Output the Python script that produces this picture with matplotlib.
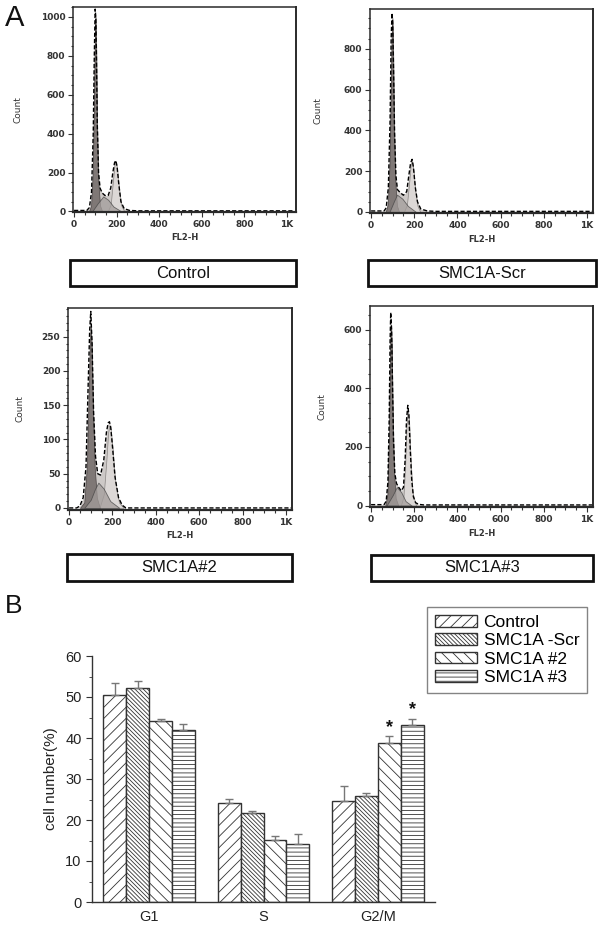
import matplotlib.pyplot as plt
from matplotlib.patches import Rectangle
from matplotlib.ticker import MultipleLocator
import numpy as np

plt.rcParams['font.family'] = ['Liberation Sans', 'DejaVu Sans']
plt.rcParams['hatch.linewidth'] = 0.6
plt.rcParams['hatch.color'] = '#444444'

#--------------- A: DNA histograms (FL2-H, count) ---------------#

# Control
ctrl_data_x = [0, 60, 72, 82, 90, 95, 99, 102, 105, 109, 115, 122, 132, 145, 160, 172, 182, 190, 196, 202, 210, 220, 235, 260, 300, 1030]
ctrl_data_y = [5, 5, 20, 100, 400, 800, 1040, 1000, 800, 450, 200, 120, 95, 82, 82, 120, 200, 250, 262, 230, 140, 50, 15, 5, 3, 3]
ctrl_g1_x = [70, 80, 88, 94, 98, 101, 104, 108, 114, 122, 132]
ctrl_g1_y = [0, 30, 200, 600, 950, 1000, 850, 450, 150, 30, 0]
ctrl_s_x = [85, 110, 137, 160, 185, 222]
ctrl_s_y = [0, 40, 77, 60, 25, 0]
ctrl_g2_x = [158, 172, 182, 190, 197, 204, 212, 222, 236]
ctrl_g2_y = [0, 35, 150, 240, 255, 200, 110, 30, 0]

# SMC1A-Scr
scr_data_x = [0, 60, 70, 80, 88, 93, 97, 100, 104, 109, 115, 122, 135, 150, 165, 175, 183, 190, 196, 205, 215, 230, 260, 300, 1030]
scr_data_y = [5, 5, 20, 120, 450, 850, 975, 930, 700, 380, 180, 110, 95, 82, 100, 180, 240, 258, 220, 120, 50, 15, 5, 3, 3]
scr_g1_x = [68, 78, 86, 92, 96, 99, 102, 106, 112, 120, 130]
scr_g1_y = [0, 40, 250, 650, 900, 950, 820, 450, 150, 30, 0]
scr_s_x = [85, 105, 120, 145, 170, 208]
scr_s_y = [0, 50, 85, 65, 30, 0]
scr_g2_x = [152, 166, 176, 184, 190, 197, 205, 215, 228]
scr_g2_y = [0, 35, 140, 235, 250, 200, 100, 30, 0]

# SMC1A#2
kd2_data_x = [0, 35, 50, 65, 78, 88, 95, 100, 106, 113, 122, 132, 145, 160, 172, 180, 186, 192, 200, 212, 228, 245, 262, 300, 1030]
kd2_data_y = [0, 0, 3, 15, 60, 180, 260, 287, 240, 140, 75, 50, 48, 70, 110, 124, 126, 118, 90, 45, 15, 4, 0, 0, 0]
kd2_g1_x = [50, 70, 82, 90, 96, 100, 104, 110, 118, 128, 142]
kd2_g1_y = [0, 8, 60, 160, 240, 265, 240, 150, 60, 15, 0]
kd2_s_x = [70, 100, 120, 135, 160, 190, 232]
kd2_s_y = [0, 12, 28, 37, 28, 10, 0]
kd2_g2_x = [140, 160, 172, 180, 186, 192, 200, 212, 230, 252]
kd2_g2_y = [0, 20, 70, 110, 120, 115, 90, 40, 8, 0]

# SMC1A#3
kd3_data_x = [0, 60, 70, 78, 84, 88, 91, 95, 99, 104, 110, 118, 128, 140, 150, 158, 164, 170, 175, 181, 188, 196, 206, 220, 245, 1030]
kd3_data_y = [3, 3, 15, 80, 300, 560, 659, 600, 420, 220, 110, 75, 62, 50, 62, 160, 290, 342, 310, 200, 90, 30, 10, 4, 2, 2]
kd3_g1_x = [66, 76, 83, 87, 90, 93, 96, 100, 106, 114, 126]
kd3_g1_y = [0, 40, 250, 480, 600, 615, 540, 330, 120, 25, 0]
kd3_s_x = [72, 100, 119, 140, 160, 188]
kd3_s_y = [0, 35, 63, 45, 15, 0]
kd3_g2_x = [138, 150, 158, 164, 170, 176, 183, 192, 208]
kd3_g2_y = [0, 30, 140, 270, 330, 290, 160, 45, 0]

hist_x_ticks = [0, 200, 400, 600, 800, 1000]
hist_x_labels = ["0", "200", "400", "600", "800", "1K"]

#--------------- B: cell cycle percentages ---------------#
phases = ["G1", "S", "G2/M"]
groups = ["Control", "SMC1A -Scr", "SMC1A #2", "SMC1A #3"]
ctrl_vals = [50.4, 24.2, 24.6]
ctrl_err = [3.1, 0.9, 3.7]
scr_vals = [52.3, 21.6, 25.8]
scr_err = [1.7, 0.7, 0.7]
kd2_vals = [44.1, 15.2, 38.9]
kd2_err = [0.6, 0.9, 1.5]
kd3_vals = [41.9, 14.1, 43.1]
kd3_err = [1.5, 2.6, 1.6]
signif = [(2, 2), (2, 3)]  # (phase, group) with *


W, H = 600, 932
fig = plt.figure(figsize=(6, 9.32), dpi=100)
hist_font = ['DejaVu Sans']


def px_axes(x0, y0, x1, y1):
    # pixel box (top-left origin) -> figure axes
    return fig.add_axes([x0 / W, 1 - y1 / H, (x1 - x0) / W, (y1 - y0) / H])


def draw_hist(ax, dx, dy, g1x, g1y, sx, sy, g2x, g2y, xlim, ylim, ymaj, ymin):
    ax.fill_between(dx, dy, color="#cdc9c7", lw=0)
    ax.fill_between(g2x, g2y, color="#dcd8d6", lw=0.5, edgecolor="#8a8684")
    ax.fill_between(g1x, g1y, color="#7f7876", lw=0.5, edgecolor="#4a4444")
    ax.fill_between(sx, sy, color="#a39d9b", alpha=0.75, lw=0.6, edgecolor="#444444")
    ax.plot(dx, dy, color="black", lw=1.0, linestyle=(0, (3, 1.5)))
    ax.set_xlim(*xlim)
    ax.set_ylim(*ylim)
    ax.set_xticks(hist_x_ticks)
    ax.set_xticklabels(hist_x_labels)
    ax.xaxis.set_minor_locator(MultipleLocator(50))
    ax.yaxis.set_major_locator(MultipleLocator(ymaj))
    ax.yaxis.set_minor_locator(MultipleLocator(ymin))
    ax.tick_params(which="both", direction="out", top=False, right=False,
                   color="#333333", width=0.8, labelsize=6.5, labelcolor="#333333", pad=2)
    ax.tick_params(which="major", length=3.5)
    ax.tick_params(which="minor", length=1.8)
    for lab in ax.get_xticklabels() + ax.get_yticklabels():
        lab.set_fontweight("bold")
        lab.set_family(hist_font)
    for sp in ax.spines.values():
        sp.set_color("#2a2a2a")
        sp.set_linewidth(1.1)
    ax.spines["bottom"].set_linewidth(1.6)
    ax.spines["right"].set_linewidth(1.4)


def label_box(x0, y0, x1, y1, text):
    fig.add_artist(Rectangle((x0 / W, 1 - y1 / H), (x1 - x0) / W, (y1 - y0) / H,
                             transform=fig.transFigure, facecolor="white",
                             edgecolor="#111111", lw=2.0))
    fig.text((x0 + x1) / 2 / W, 1 - (y0 + y1) / 2 / H, text, ha="center", va="center",
             fontsize=12, color="#111111")


panels = [
    # axes box, x-limits, y-limits, y major, y minor, name, box, count x, data
    ((73, 7, 296, 212), (-5, 1042), (-3, 1051), 200, 50, "Control", (70, 260, 296, 286), 18,
     (ctrl_data_x, ctrl_data_y, ctrl_g1_x, ctrl_g1_y, ctrl_s_x, ctrl_s_y, ctrl_g2_x, ctrl_g2_y)),
    ((370, 9, 593, 213), (-5, 1028), (-5, 995), 200, 50, "SMC1A-Scr", (368, 260, 596, 286), 318,
     (scr_data_x, scr_data_y, scr_g1_x, scr_g1_y, scr_s_x, scr_s_y, scr_g2_x, scr_g2_y)),
    ((68, 308, 292, 510), (-5, 1028), (-3, 292), 50, 10, "SMC1A#2", (67, 554, 292, 581), 20,
     (kd2_data_x, kd2_data_y, kd2_g1_x, kd2_g1_y, kd2_s_x, kd2_s_y, kd2_g2_x, kd2_g2_y)),
    ((370, 306, 593, 507), (-5, 1028), (-5, 681), 200, 50, "SMC1A#3", (371, 555, 593, 581), 322,
     (kd3_data_x, kd3_data_y, kd3_g1_x, kd3_g1_y, kd3_s_x, kd3_s_y, kd3_g2_x, kd3_g2_y)),
]

for box, xl, yl, ymaj, ymin, name, lbox, cx, d in panels:
    ax = px_axes(*box)
    draw_hist(ax, *d, xl, yl, ymaj, ymin)
    fig.text(cx / W, 1 - (box[1] + box[3]) / 2 / H, "Count", rotation=90,
             ha="center", va="center", fontsize=6.5, color="#333333", family=hist_font)
    fig.text((box[0] + box[2]) / 2 / W, 1 - (box[3] + 26) / H, "FL2-H",
             ha="center", va="center", fontsize=6, color="#333333", fontweight="bold",
             family=hist_font)
    label_box(*lbox, name)

fig.text(5 / W, 1 - 18 / H, "A", fontsize=21, ha="left", va="center", color="#111111")
fig.text(5 / W, 1 - 606 / H, "B", fontsize=19, ha="left", va="center", color="#111111")

#--------------- B: bar chart ---------------#
axb = px_axes(92, 656, 435, 902)
all_vals = [ctrl_vals, scr_vals, kd2_vals, kd3_vals]
all_err = [ctrl_err, scr_err, kd2_err, kd3_err]
hatches = ["///", "\\" * 8, "\\\\\\", "----"]
bw = 0.2
xpos = np.arange(len(phases))
for j in range(len(groups)):
    xs = xpos + (j - 1.5) * bw
    axb.bar(xs, all_vals[j], width=bw, facecolor="white", edgecolor="#333333",
            lw=1.0, hatch=hatches[j], label=groups[j])
    axb.errorbar(xs, all_vals[j], yerr=[np.zeros(len(phases)), all_err[j]], fmt="none",
                 ecolor="#777777", elinewidth=1.0, capsize=3, capthick=1.0)

for p, g in signif:
    xs = xpos[p] + (g - 1.5) * bw
    axb.text(xs, all_vals[g][p] + all_err[g][p] + 2.2, "*", ha="center", va="center",
             fontsize=13, fontweight="bold", color="#111111")

axb.set_xlim(-0.5, 2.5)
axb.set_ylim(0, 60)
axb.set_xticks(xpos)
axb.set_xticklabels(phases)
axb.yaxis.set_major_locator(MultipleLocator(10))
axb.yaxis.set_minor_locator(MultipleLocator(5))
axb.spines["top"].set_visible(False)
axb.spines["right"].set_visible(False)
for sp in axb.spines.values():
    sp.set_color("#333333")
    sp.set_linewidth(1.0)
axb.tick_params(which="both", direction="out", color="#333333", labelsize=10.5,
                labelcolor="#222222")
axb.tick_params(which="major", length=4)
axb.tick_params(which="minor", length=2)
axb.tick_params(axis="x", length=0, pad=6)
axb.set_ylabel("cell number(%)", fontsize=11, color="#222222", labelpad=5)

leg = fig.legend(loc="upper right", bbox_to_anchor=(587 / W, 1 - 607 / H),
                 bbox_transform=fig.transFigure, fontsize=12.5, frameon=True,
                 fancybox=False, edgecolor="#666666", handlelength=2.4,
                 handleheight=0.65, labelspacing=0.2, borderpad=0.45,
                 handletextpad=0.4, borderaxespad=0)
leg.get_frame().set_linewidth(1.0)

fig.savefig("out.png", dpi=100, facecolor="white")
